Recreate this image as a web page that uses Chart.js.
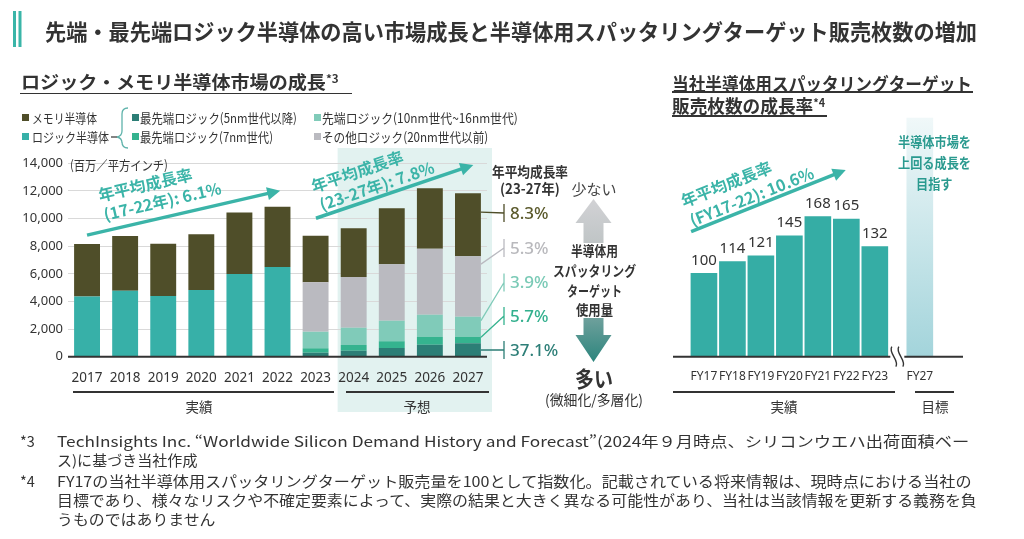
<!DOCTYPE html>
<html lang="ja">
<head>
<meta charset="utf-8">
<script src="https://cdn.jsdelivr.net/npm/chart.js@4.4.1/dist/chart.umd.min.js"></script>
<style>
  body { margin: 0; background: #fff; }
  #page { position: relative; width: 1024px; height: 539px; overflow: hidden; font-family: "Noto Sans CJK JP", "Noto Sans", sans-serif; color: #333; }
  .t { position: absolute; white-space: nowrap; line-height: 1; transform-origin: 0 50%; }
  .ln { position: absolute; background: #333; }
  canvas, svg { position: absolute; }
</style>
</head>
<body>
<div id="page">
  <canvas id="left" width="560" height="275" style="left:0;top:145px"></canvas>
  <canvas id="right" width="364" height="320" style="left:660px;top:100px"></canvas>
  <svg width="1024" height="539" style="left:0;top:0">
    <defs>
      <linearGradient id="usage" x1="0" y1="199" x2="0" y2="362" gradientUnits="userSpaceOnUse">
        <stop offset="0" stop-color="#d2d2d5"/>
        <stop offset="0.45" stop-color="#b3bcbc"/>
        <stop offset="1" stop-color="#2c857d"/>
      </linearGradient>
    </defs>
    <rect x="13" y="11" width="3" height="36" fill="#3ab5a8"/>
    <rect x="18.5" y="11" width="3" height="36" fill="#3ab5a8"/>
    <path d="M128 108 Q122 108 122 114 L122 131 Q122 136 117 137 Q122 138 122 143 L122 142 L122 142 Q122 148 128 148" fill="none" stroke="#5fb3ab" stroke-width="1.3"/>
    <line x1="111" y1="137" x2="117" y2="137" stroke="#333" stroke-width="1.2"/>
    <polygon points="593.5,199 611.5,223 603.5,223 603.5,335 611.5,335 593.5,362 575.5,335 583.5,335 583.5,223 575.5,223" fill="url(#usage)"/>
    <rect x="580" y="243" width="27" height="75" fill="#fff"/>
  </svg>
</div>
<script>
// Left chart: logic / memory semiconductor market (million sq. inch)
const years = ["2017", "2018", "2019", "2020", "2021", "2022", "2023", "2024", "2025", "2026", "2027"];
const logicTotal = [4350, 4780, 4400, 4830, 5990, 6490, null, null, null, null, null];
const logic5nm = [null, null, null, null, null, null, 290, 430, 630, 870, 970];
const logic7nm = [null, null, null, null, null, null, 320, 420, 480, 580, 480];
const logicAdv = [null, null, null, null, null, null, 1200, 1250, 1500, 1590, 1450];
const logicOther = [null, null, null, null, null, null, 3580, 3670, 4080, 4780, 4370];
const memory = [3800, 3960, 3780, 4030, 4440, 4370, 3370, 3530, 4050, 4370, 4560];
// CAGR 23-27, top to bottom: memory, other, advanced, 7nm, 5nm
const cagrLabels = ["8.3%", "5.3%", "3.9%", "5.7%", "37.1%"];

// Right chart: sputtering target sales index (FY17 = 100)
const fyLabels = ["FY17", "FY18", "FY19", "FY20", "FY21", "FY22", "FY23", "FY27"];
const fyPos = [0, 1, 2, 3, 4, 5, 6, 7.58];
const salesIndex = [100, 114, 121, 145, 168, 165, 132];
const fy27Target = 286;

const C = {
  memory: "#4f4e29",
  logic: "#37b0a8",
  n5: "#2c7e76",
  n7: "#35b38f",
  adv: "#80cbb9",
  other: "#babac0",
  bar: "#35ada5",
  accent: "#3bb4a8",
  shade: "#e2f2f0",
};

Chart.defaults.font.family = "'Noto Sans', 'Noto Sans CJK JP', sans-serif";
Chart.defaults.color = "#333";

const page = document.getElementById("page");

function addText(html, x, cy, size, opts = {}) {
  const el = document.createElement("div");
  el.className = "t";
  el.innerHTML = html;
  el.style.fontSize = size + "px";
  el.style.top = cy - size / 2 + "px";
  if (opts.weight) el.style.fontWeight = opts.weight;
  if (opts.color) el.style.color = opts.color;
  page.appendChild(el);
  let w = el.offsetWidth;
  if (opts.width) {
    el.style.transform = `scaleX(${opts.width / w})`;
    w = opts.width;
  }
  const align = opts.align || "left";
  el.style.left = (align === "center" ? x - w / 2 : x) + "px";
  return el;
}

function addLine(x1, x2, y, h = 1.5) {
  const el = document.createElement("div");
  el.className = "ln";
  el.style.left = x1 + "px";
  el.style.top = y - h / 2 + "px";
  el.style.width = x2 - x1 + "px";
  el.style.height = h + "px";
  page.appendChild(el);
}

function addSwatch(x, cy, color) {
  const el = document.createElement("div");
  el.className = "ln";
  el.style.cssText += `left:${x}px;top:${cy - 3.5}px;width:7px;height:7px;background:${color}`;
  page.appendChild(el);
}

// arrow with rotated caption, in canvas pixels
function drawArrow(ctx, x1, y1, x2, y2, lines) {
  const ang = Math.atan2(y2 - y1, x2 - x1);
  const len = Math.hypot(x2 - x1, y2 - y1);
  ctx.save();
  ctx.translate(x1, y1);
  ctx.rotate(ang);
  ctx.strokeStyle = C.accent;
  ctx.fillStyle = C.accent;
  ctx.lineWidth = 3.5;
  ctx.beginPath();
  ctx.moveTo(0, 0);
  ctx.lineTo(len - 10, 0);
  ctx.stroke();
  ctx.beginPath();
  ctx.moveTo(len, 0);
  ctx.lineTo(len - 13, -6.5);
  ctx.lineTo(len - 13, 6.5);
  ctx.closePath();
  ctx.fill();
  ctx.font = "bold 16px 'Noto Sans CJK JP'";
  ctx.textAlign = "center";
  ctx.textBaseline = "middle";
  lines.forEach((l) => ctx.fillText(l.text, len / 2 + l.u, -l.n));
  ctx.restore();
}

const leftDeco = {
  id: "leftDeco",
  beforeDraw(chart) {
    const { ctx, chartArea, scales: { x } } = chart;
    const x0 = (x.getPixelForValue(6) + x.getPixelForValue(7)) / 2 + 3;
    ctx.save();
    ctx.fillStyle = C.shade;
    ctx.fillRect(x0, 3, chartArea.right + 5 - x0, 264);
    ctx.restore();
  },
  afterDatasetsDraw(chart) {
    const { ctx, chartArea, scales: { x, y } } = chart;
    ctx.save();
    // baseline
    ctx.strokeStyle = "#333";
    ctx.lineWidth = 2;
    ctx.beginPath();
    ctx.moveTo(chartArea.left, chartArea.bottom);
    ctx.lineTo(chartArea.right, chartArea.bottom);
    ctx.stroke();

    drawArrow(ctx, x.getPixelForValue(0), y.getPixelForValue(8800), x.getPixelForValue(5.07), y.getPixelForValue(12020), [
      { text: "年平均成長率", u: -31, n: 36 },
      { text: "(17-22年): 6.1%", u: -18, n: 16 },
    ]);
    drawArrow(ctx, x.getPixelForValue(6.01), y.getPixelForValue(10020), x.getPixelForValue(10.14), y.getPixelForValue(13880), [
      { text: "年平均成長率", u: -29, n: 31 },
      { text: "(23-27年): 7.8%", u: -15, n: 11 },
    ]);

    // CAGR connectors from the 2027 bar
    const last = years.length - 1;
    const segs = [
      { data: memory, color: C.memory, text: "#5b5a2c", frac: 0.7 },
      { data: logicOther, color: C.other, text: "#b9b9bd", frac: 0.87 },
      { data: logicAdv, color: C.adv, text: "#7acab6", frac: 0.8 },
      { data: logic7nm, color: C.n7, text: "#33b08e", frac: 0.9 },
      { data: logic5nm, color: C.n5, text: "#2e7f78", frac: 0.5 },
    ];
    const stackOrder = [logic5nm, logic7nm, logicAdv, logicOther, memory];
    const labelY = [68, 103, 137.5, 171, 205];
    const barRight = x.getPixelForValue(last) + 13;
    const tickX = chartArea.right + 17;
    ctx.font = "500 17px 'Noto Sans'";
    ctx.textBaseline = "middle";
    segs.forEach((s, i) => {
      const k = stackOrder.indexOf(s.data);
      let bottom = 0;
      for (let j = 0; j < k; j++) bottom += stackOrder[j][last];
      const v = bottom + s.frac * s.data[last];
      ctx.strokeStyle = s.color;
      ctx.lineWidth = 1.3;
      ctx.beginPath();
      ctx.moveTo(barRight, y.getPixelForValue(v));
      ctx.lineTo(tickX, labelY[i]);
      ctx.moveTo(tickX, labelY[i] - 9);
      ctx.lineTo(tickX, labelY[i] + 9);
      ctx.stroke();
      ctx.fillStyle = s.text;
      ctx.fillText(cagrLabels[i], tickX + 6, labelY[i] + 1);
    });
    ctx.restore();
  },
};

new Chart(document.getElementById("left"), {
  type: "bar",
  data: {
    labels: years,
    datasets: [
      { label: "ロジック半導体", data: logicTotal, backgroundColor: C.logic },
      { label: "最先端ロジック(5nm世代以降)", data: logic5nm, backgroundColor: C.n5 },
      { label: "最先端ロジック(7nm世代)", data: logic7nm, backgroundColor: C.n7 },
      { label: "先端ロジック(10nm世代~16nm世代)", data: logicAdv, backgroundColor: C.adv },
      { label: "その他ロジック(20nm世代以前)", data: logicOther, backgroundColor: C.other },
      { label: "メモリ半導体", data: memory, backgroundColor: C.memory },
    ],
  },
  options: {
    responsive: false,
    animation: false,
    layout: { padding: { top: 18.3, right: 73, left: 0, bottom: 0 } },
    plugins: { legend: { display: false }, tooltip: { enabled: false } },
    datasets: { bar: { categoryPercentage: 1, barPercentage: 0.68 } },
    scales: {
      x: {
        stacked: true,
        grid: { display: false, drawTicks: false },
        border: { display: false },
        ticks: { padding: 13, color: "#333", font: { size: 13.5 } },
        afterFit(s) { s.height = 63.3; },
      },
      y: {
        stacked: true,
        min: 0,
        max: 14000,
        ticks: { stepSize: 2000, padding: 5, color: "#333", font: { size: 13 }, callback: (v) => v.toLocaleString("en-US") },
        grid: { color: "#d9d9d9", drawTicks: false },
        border: { display: false },
        afterFit(s) { s.width = 68; },
      },
    },
  },
  plugins: [leftDeco],
});

const rightDeco = {
  id: "rightDeco",
  afterDatasetsDraw(chart) {
    const { ctx, chartArea, scales: { x, y } } = chart;
    const by = chartArea.bottom;
    const bx = x.getPixelForValue((fyPos[6] + fyPos[7]) / 2);
    ctx.save();
    ctx.strokeStyle = "#333";
    ctx.lineWidth = 2;
    ctx.beginPath();
    ctx.moveTo(chartArea.left, by);
    ctx.lineTo(bx - 7, by);
    ctx.moveTo(bx + 7, by);
    ctx.lineTo(chartArea.right, by);
    ctx.stroke();
    // break mark
    ctx.lineWidth = 1.4;
    [-3.5, 3.5].forEach((o) => {
      const cx = bx + o;
      ctx.beginPath();
      ctx.moveTo(cx - 2, by - 10);
      ctx.bezierCurveTo(cx - 6, by - 4, cx + 6, by + 4, cx + 2, by + 10);
      ctx.stroke();
    });
    // value labels
    ctx.fillStyle = "#333";
    ctx.font = "15px 'Noto Sans'";
    ctx.textAlign = "center";
    ctx.textBaseline = "middle";
    salesIndex.forEach((v, i) => {
      ctx.fillText(String(v), x.getPixelForValue(fyPos[i]), y.getPixelForValue(v) - 13);
    });
    ctx.restore();
    drawArrow(ctx, x.getPixelForValue(-0.45), y.getPixelForValue(150), x.getPixelForValue(4.98), y.getPixelForValue(224), [
      { text: "年平均成長率", u: -33, n: 31 },
      { text: "(FY17-22): 10.6%", u: -14, n: 10 },
    ]);
  },
};

const rightValues = salesIndex.concat([fy27Target]);

new Chart(document.getElementById("right"), {
  type: "bar",
  data: {
    datasets: [
      {
        label: "販売枚数",
        data: fyPos.map((p, i) => ({ x: p, y: rightValues[i] })),
        barThickness: 26,
        backgroundColor(c) {
          if (c.dataIndex !== fyPos.length - 1) return C.bar;
          const { chart } = c;
          if (!chart.chartArea) return "#b5dde2";
          const g = chart.ctx.createLinearGradient(0, chart.scales.y.getPixelForValue(fy27Target), 0, chart.chartArea.bottom);
          g.addColorStop(0, "#f0f8f9");
          g.addColorStop(1, "#a3d4db");
          return g;
        },
      },
    ],
  },
  options: {
    responsive: false,
    animation: false,
    layout: { padding: { top: 6.5, right: 61, left: 13, bottom: 0 } },
    plugins: { legend: { display: false }, tooltip: { enabled: false } },
    scales: {
      x: {
        type: "linear",
        min: -0.45,
        max: 8.46,
        grid: { display: false, drawTicks: false },
        border: { display: false },
        afterBuildTicks(s) { s.ticks = fyPos.map((v) => ({ value: v })); },
        ticks: { autoSkip: false, maxRotation: 0, padding: 13, color: "#333", font: { size: 12 }, callback: (v, i) => fyLabels[i] },
        afterFit(s) { s.height = 63.3; },
      },
      y: { display: false, min: 0, max: 300 },
    },
  },
  plugins: [rightDeco],
});

// titles
addText("先端・最先端ロジック半導体の高い市場成長と半導体用スパッタリングターゲット販売枚数の増加", 45, 30, 22, { weight: 700, width: 932 });
addText("ロジック・メモリ半導体市場の成長<span style='font-size:11px;position:relative;top:-6px'>*3</span>", 21, 81, 18, { weight: 700, width: 318 });
addLine(20, 352, 93.5);
addText("当社半導体用スパッタリングターゲット", 672, 83, 18, { weight: 700, width: 300 });
addLine(672, 973, 92);
addText("販売枚数の成長率<span style='font-size:11px;position:relative;top:-6px'>*4</span>", 672, 105, 18, { weight: 700, width: 153 });
addLine(672, 827, 116);

// legend
addSwatch(22, 117.5, C.memory);
addText("メモリ半導体", 32, 117.5, 13, { width: 65 });
addSwatch(22, 136.5, C.logic);
addText("ロジック半導体", 32, 136.5, 13, { width: 77 });
addSwatch(131.5, 117.5, C.n5);
addText("最先端ロジック(5nm世代以降)", 140, 117.5, 13, { width: 157 });
addSwatch(131.5, 136.5, C.n7);
addText("最先端ロジック(7nm世代)", 140, 136.5, 13, { width: 133 });
addSwatch(314, 117.5, C.adv);
addText("先端ロジック(10nm世代~16nm世代)", 322, 117.5, 13, { width: 196 });
addSwatch(314, 136.5, C.other);
addText("その他ロジック(20nm世代以前)", 322, 136.5, 13, { width: 166 });

addText("(百万／平方インチ)", 70, 164, 13, { width: 98 });

// CAGR header and usage arrow captions
addText("年平均成長率", 530, 171, 14, { weight: 700, width: 76, align: "center" });
addText("(23-27年)", 530, 187.5, 14, { weight: 700, width: 60, align: "center" });
addText("少ない", 594, 188, 15, { color: "#444", width: 45, align: "center" });
addText("半導体用", 594, 250, 14, { weight: 700, width: 47, align: "center" });
addText("スパッタリング", 594, 270, 14, { weight: 700, width: 83, align: "center" });
addText("ターゲット", 594, 290, 14, { weight: 700, width: 55, align: "center" });
addText("使用量", 594, 309, 14, { weight: 700, width: 37, align: "center" });
addText("多い", 594, 377, 22, { weight: 700, width: 38, align: "center" });
addText("(微細化/多層化)", 594, 398.5, 14, { width: 98, align: "center" });

// period captions
addLine(73, 334, 392);
addText("実績", 199, 406.5, 13.5, { align: "center" });
addLine(346, 489, 392);
addText("予想", 417, 406.5, 13.5, { align: "center" });
addLine(673, 895, 392);
addText("実績", 784, 406.5, 13.5, { align: "center" });
addLine(915, 954, 392);
addText("目標", 935, 406.5, 13.5, { align: "center" });

// FY27 target caption
const teal = "#2a9a8f";
addText("半導体市場を", 934, 142, 13.5, { weight: 700, color: teal, width: 73, align: "center" });
addText("上回る成長を", 934, 163, 13.5, { weight: 700, color: teal, width: 73, align: "center" });
addText("目指す", 934, 184, 13.5, { weight: 700, color: teal, width: 37, align: "center" });

// footnotes
addText("*3", 20, 441, 14.5);
addText("TechInsights Inc. “Worldwide Silicon Demand History and Forecast”(2024年９月時点、シリコンウエハ出荷面積ベー", 57, 441, 14.5, { width: 912 });
addText("ス)に基づき当社作成", 57, 460, 14.5, { width: 140 });
addText("*4", 20, 481, 14.5);
addText("FY17の当社半導体用スパッタリングターゲット販売量を100として指数化。記載されている将来情報は、現時点における当社の", 57, 481, 14.5, { width: 915 });
addText("目標であり、様々なリスクや不確定要素によって、実際の結果と大きく異なる可能性があり、当社は当該情報を更新する義務を負", 57, 500, 14.5, { width: 920 });
addText("うものではありません", 57, 519, 14.5, { width: 159 });
</script>
</body>
</html>
